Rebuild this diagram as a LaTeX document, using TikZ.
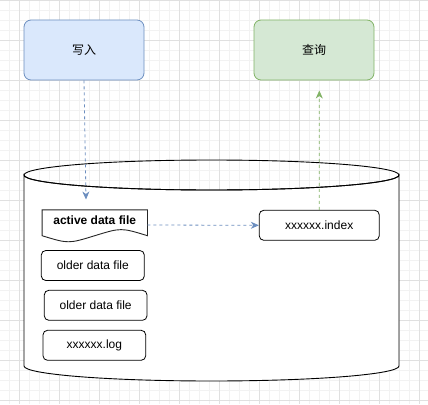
\documentclass[tikz,border=0pt]{standalone}
\usepackage{fontspec}
\setmainfont{Liberation Sans}
\newfontfamily\cjk{Noto Sans CJK SC}
\usetikzlibrary{arrows.meta,calc}
\definecolor{gridmaj}{HTML}{E0E0E0}
\definecolor{gridmin}{HTML}{F2F2F2}
\definecolor{bluefill}{HTML}{DAE8FC}
\definecolor{bluestroke}{HTML}{6C8EBF}
\definecolor{greenfill}{HTML}{D5E8D4}
\definecolor{greenstroke}{HTML}{82B366}
\tikzset{
  topbox/.style={draw, rounded corners=7pt, minimum width=120pt, minimum height=60pt, inner sep=0pt, font=\cjk\fontsize{12}{14}\selectfont, line width=0.8pt},
  filebox/.style={draw=black, rounded corners=4.5pt, minimum width=102.5pt, minimum height=30pt, inner sep=0pt, font=\fontsize{12}{14}\selectfont, line width=0.8pt, fill=white},
  dasharrow/.style={dash pattern=on 3pt off 3pt, line width=0.8pt, -{Stealth[length=8pt,width=7pt,inset=2.5pt]}},
}
\begin{document}
\begin{tikzpicture}[x=1pt,y=-1pt]
\useasboundingbox (0,0) rectangle (428,404);
\fill[white] (0,0) rectangle (428,404);
% grid
\foreach \i in {0,...,42} {
  \draw[gridmin, line width=0.6pt] ({9.5+10*\i},0) -- ({9.5+10*\i},404);
}
\foreach \i in {0,...,40} {
  \draw[gridmin, line width=0.6pt] (0,{0.5+10*\i}) -- (428,{0.5+10*\i});
}
\foreach \i in {0,...,10} {
  \draw[gridmaj, line width=0.8pt] ({19.5+40*\i},0) -- ({19.5+40*\i},404);
}
\foreach \i in {0,...,10} {
  \draw[gridmaj, line width=0.8pt] (0,{0.5+40*\i}) -- (428,{0.5+40*\i});
}
% top boxes
\node[topbox, fill=bluefill, draw=bluestroke] (write) at (84,50) {写入};
\node[topbox, fill=greenfill, draw=greenstroke] (query) at (314,50) {查询};
% cylinder
\draw[line width=0.9pt, fill=white] (24,175) -- (24,366) arc[start angle=180, end angle=360, x radius=187.5, y radius=-15] -- (399,175) arc[start angle=0, end angle=180, x radius=187.5, y radius=15] -- cycle;
\draw[line width=0.9pt] (211.5,175) ellipse[x radius=187.5, y radius=15];
% active data file (document shape)
\node[minimum width=105pt, minimum height=30pt, inner sep=0pt] (active) at (94.75,225) {};
\draw[line width=0.9pt, draw=black!85, fill=white] (active.north west) -- (active.north east) -- ($(active.south east)+(0,-4.5)$)
  .. controls ($(active.south east)!0.25!(active.south west)+(0,-12.6)$) .. ($(active.south)+(0,-4.5)$)
  .. controls ($(active.south west)!0.25!(active.south east)+(0,3.6)$) .. ($(active.south west)+(0,-4.5)$) -- cycle;
\node[font=\bfseries\fontsize{12}{14}\selectfont] (activetxt) at (94.75,220.5) {active data file};
% index
\node[filebox, minimum width=120pt] (index) at (319.25,225.3) {xxxxxx.index};
% older files
\node[filebox, minimum width=103pt] (old1) at (92.8,265.5) {older data file};
\node[filebox, minimum width=102.7pt] (old2) at (95.65,305.3) {older data file};
\node[filebox, minimum width=102.7pt] (log) at (94.35,345.3) {xxxxxx.log};
% arrows
\coordinate (wend) at (86,199.5);
\coordinate (qend) at (319.3,90.5);
\draw[dasharrow, bluestroke] (write.south) -- (wend);
\draw[dasharrow, bluestroke] (active.east) -- (index.west);
\draw[dasharrow, greenstroke] (index.north) -- (qend);
\end{tikzpicture}
\end{document}
